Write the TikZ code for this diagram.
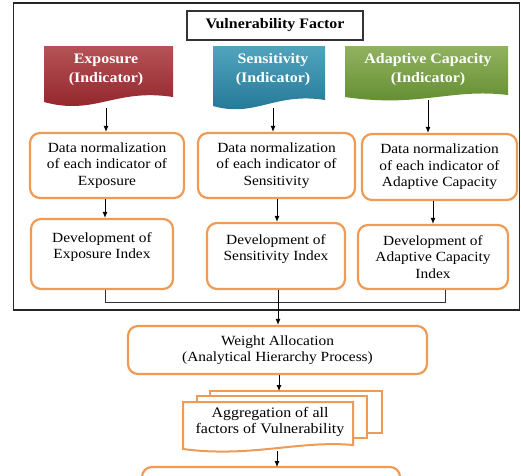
\documentclass[tikz,border=0pt]{standalone}
\usepackage{fontspec}
\setmainfont[FakeStretch=1.1]{Liberation Serif}
\usetikzlibrary{arrows.meta,calc}
\definecolor{ored}{HTML}{EE9B55}
\definecolor{expred}{HTML}{A8353A}
\definecolor{expredd}{HTML}{8E2026}
\definecolor{senblue}{HTML}{3394B2}
\definecolor{senblued}{HTML}{1F7492}
\definecolor{adgreen}{HTML}{7DA544}
\definecolor{adgreend}{HTML}{5F8A2C}
\tikzset{
  arr/.style={-{Latex[length=6pt,width=5pt]}, line width=0.9pt},
  conn/.style={line width=0.7pt, draw=black!80},
  obox/.style={draw=ored, line width=2.2pt, rounded corners=10pt, fill=white, align=center, font=\fontsize{14}{16.5}\selectfont, inner sep=2pt},
  btxt/.style={text=white, align=center, font=\bfseries\fontsize{14.5}{19}\selectfont},
  odoc/.style={draw=ored, line width=2pt, fill=white},
}
\begin{document}
\begin{tikzpicture}[x=1pt,y=-1pt]
\useasboundingbox (0,0) rectangle (521,475);
% outer frame
\node[draw=black!85, line width=1.8pt, minimum width=506pt, minimum height=307pt, inner sep=0pt] (frame) at (266.5,156.5) {};
% title
\node[draw=black!80, line width=1.2pt, minimum width=176pt, minimum height=29pt, inner sep=0pt, font=\bfseries\fontsize{14.5}{16}\selectfont] (title) at (275,25.5) {Vulnerability Factor};
% banners
\path[top color=expred!85!white, bottom color=expredd] (44,46) -- (173,46) -- (173,97) .. controls (115,88) and (95,116) .. (44,102) -- cycle;
\path[top color=senblue!85!white, bottom color=senblued] (213,46) -- (325,46) -- (325,100) .. controls (275,92) and (255,118) .. (213,106) -- cycle;
\path[top color=adgreen!85!white, bottom color=adgreend] (345,46) -- (508,46) -- (508,95) .. controls (450,88) and (420,108) .. (345,97) -- cycle;
\node[btxt, minimum height=76pt, inner sep=0pt] (b1) at (106,70) {Exposure\\(Indicator)};
\node[btxt, minimum height=76pt, inner sep=0pt] (b2) at (273,70) {Sensitivity\\(Indicator)};
\node[btxt, minimum height=60pt, inner sep=0pt] (b3) at (428,70) {Adaptive Capacity\\(Indicator)};
% row 1
\node[obox, minimum width=154pt, minimum height=65pt] (n1) at (107,165.5) {Data normalization\\of each indicator of\\Exposure};
\node[obox, minimum width=157pt, minimum height=65pt] (n2) at (276.5,165.5) {Data normalization\\of each indicator of\\Sensitivity};
\node[obox, minimum width=155pt, minimum height=66pt] (n3) at (439.5,167) {Data normalization\\of each indicator of\\Adaptive Capacity};
% row 2
\node[obox, minimum width=142pt, minimum height=70pt] (d1) at (102,254) {Development of\\Exposure Index\\\mbox{}};
\node[obox, minimum width=138pt, minimum height=66pt] (d2) at (276,256) {Development of\\Sensitivity Index\\\mbox{}};
\node[obox, minimum width=150pt, minimum height=64pt] (d3) at (433,257) {Development of\\Adaptive Capacity\\Index};
% arrows banners -> row1
\draw[arr] (b1.south) -- (b1.south |- n1.north);
\draw[arr] (b2.south) -- (b2.south |- n2.north);
\draw[arr] (b3.south) -- (b3.south |- n3.north);
% arrows row1 -> row2
\coordinate (a1) at (105,0);
\coordinate (a2) at (277,0);
\coordinate (a3) at (433,0);
\draw[arr] (a1 |- n1.south) -- (a1 |- d1.north);
\draw[arr] (a2 |- n2.south) -- (a2 |- d2.north);
\draw[arr] (a3 |- n3.south) -- (a3 |- d3.north);
% weight
\node[obox, minimum width=299pt, minimum height=48pt] (w) at (277.5,350) {Weight Allocation\\(Analytical Hierarchy Process)};
% connectors row2 -> weight
\coordinate (j) at (278,302);
\draw[conn] (a1 |- d1.south) -- (a1 |- j) -- (445,302) coordinate (jr) -- (jr |- d3.south);
\draw[arr] (j |- d2.south) -- (j |- w.north);
% aggregation multi-document
\draw[odoc] (210,391) -- (382,391) -- (382,433) -- (367,433) -- (367,396) -- (210,396) -- cycle;
\draw[odoc] (197,396) -- (367,396) -- (367,438) -- (353,438) -- (353,402) -- (197,402) -- cycle;
\draw[odoc] (183,402) -- (353,402) -- (353,445) .. controls (300,440) and (250,458) .. (183,449) -- cycle;
\node[font=\fontsize{14.5}{16.5}\selectfont, align=center, minimum height=42pt, inner sep=0pt] (agg) at (270,422) {Aggregation of all\\factors of Vulnerability};
\coordinate (aggtop) at (279,391);
\draw[arr] (w.south -| aggtop) -- (aggtop);
% last box (cut off)
\draw[draw=ored, line width=2.2pt, rounded corners=10pt] (142,490) -- (142,467) -- (400,467) -- (400,490);
\coordinate (lasttop) at (277,467);
\coordinate (aggbot) at (277,451);
\draw[arr] (aggbot) -- (lasttop);
\end{tikzpicture}
\end{document}
